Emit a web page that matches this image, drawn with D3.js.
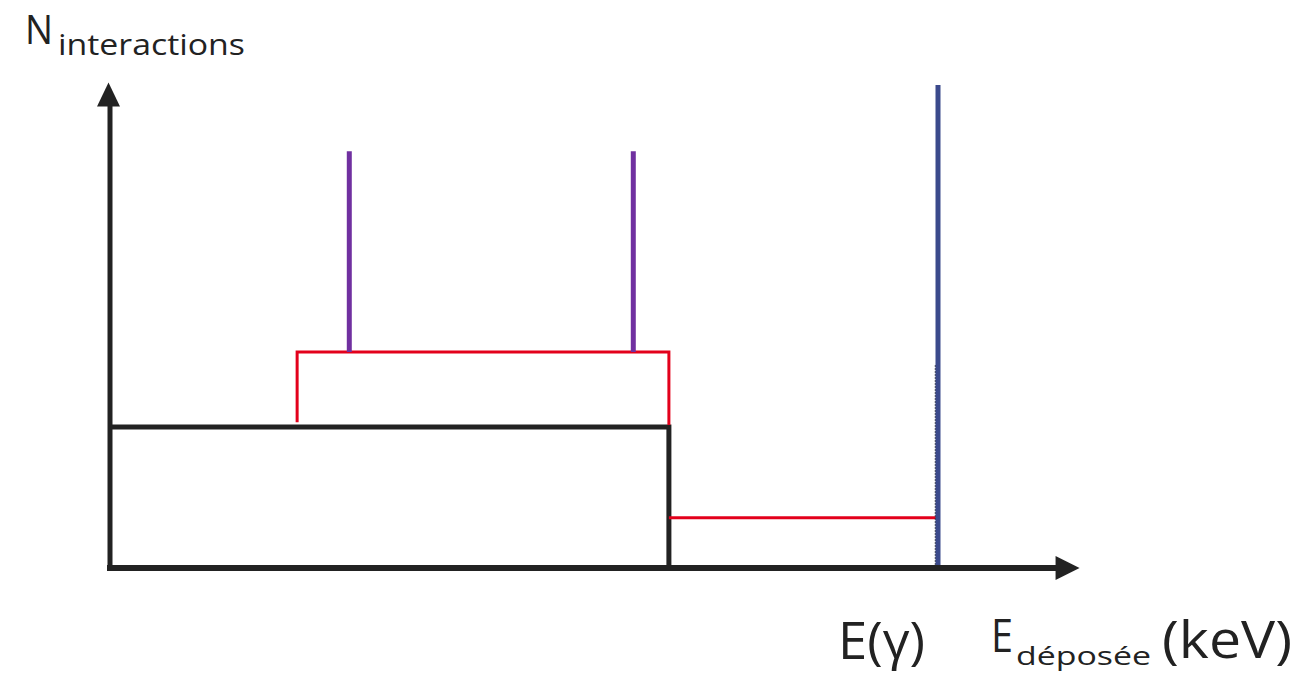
<!DOCTYPE html>
<html>
<head>
<meta charset="utf-8">
<script src="https://cdn.jsdelivr.net/npm/d3@7"></script>
<style>
  html, body { margin: 0; padding: 0; background: #fff; }
  svg { display: block; }
  text { font-family: "Open Sans", "Noto Sans", sans-serif; fill: #222; }
</style>
</head>
<body>
<svg id="chart" width="1307" height="674"></svg>
<script>
// Energy axis in % of E(γ); count axis in arbitrary units
const axisExtent = { x: 117.1, y: 100.5 };
const gammaEnergy = 100;
const comptonEdge = 67.5;

// Black Compton continuum (step): [start, end, level]
const continuum = [[0, comptonEdge, 29.2]];
// Red spectrum segments as polylines
const redUpper = [[22.6, 30.2], [22.6, 44.7], [comptonEdge, 44.7], [comptonEdge, 29.6]];
const redLower = [[comptonEdge, 10.4], [gammaEnergy, 10.4]];
// Purple peaks: [energy, height, base]
const purplePeaks = [[28.9, 86.3, 44.7], [63.2, 86.3, 44.7]];
// Blue photopeak line
const photopeak = [[gammaEnergy, 100]];

// Title pieces: [text, x, baseline, size, width]
const yTitleParts = [["N", 25, 44, 41, 28], ["interactions", 58, 55, 29, 187]];
const xTitleParts = [
  ["E(γ)", 838, 659, 51, 87],
  ["E", 991, 652, 46, 22],
  ["déposée", 1016, 665, 25, 135],
  ["(keV)", 1162, 658, 51, 130]
];

const svg = d3.select("#chart");
const x = d3.scaleLinear().domain([0, 100]).range([110, 938]);
const y = d3.scaleLinear().domain([0, 100]).range([568, 85]);
const line = d3.line().x(d => x(d[0])).y(d => y(d[1]));

const dark = "#222222";

// Black continuum box
continuum.forEach(([a, b, h]) => {
  svg.append("path")
    .attr("d", line([[a, h], [b, h], [b, 0]]))
    .attr("fill", "none").attr("stroke", dark).attr("stroke-width", 5)
    .attr("stroke-linejoin", "miter");
});

// Red spectrum
[redUpper, redLower].forEach(seg => {
  svg.append("path")
    .attr("d", line(seg))
    .attr("fill", "none").attr("stroke", "#E3001B").attr("stroke-width", 3);
});

// Purple peaks
svg.selectAll("line.peak").data(purplePeaks).enter().append("line")
  .attr("class", "peak")
  .attr("x1", d => x(d[0])).attr("x2", d => x(d[0]))
  .attr("y1", d => y(d[2])).attr("y2", d => y(d[1]))
  .attr("stroke", "#7030A0").attr("stroke-width", 5);

// Dotted guide at E(γ)
svg.append("line")
  .attr("x1", x(gammaEnergy) - 2.5).attr("x2", x(gammaEnergy) - 2.5)
  .attr("y1", y(42)).attr("y2", y(0))
  .attr("stroke", dark).attr("stroke-width", 1.5).attr("stroke-dasharray", "1.5,1.5");

// Blue photopeak
svg.selectAll("line.photo").data(photopeak).enter().append("line")
  .attr("class", "photo")
  .attr("x1", d => x(d[0])).attr("x2", d => x(d[0]))
  .attr("y1", y(-0.6)).attr("y2", d => y(d[1]))
  .attr("stroke", "#3B4A8C").attr("stroke-width", 5);

// Axes with arrowheads
const x0 = x(0), y0 = y(0);
const xEnd = x(axisExtent.x), yEnd = y(axisExtent.y);
svg.append("line").attr("x1", x0).attr("y1", y0 + 3).attr("x2", x0).attr("y2", yEnd + 20)
  .attr("stroke", dark).attr("stroke-width", 5);
svg.append("line").attr("x1", x0 - 3).attr("y1", y0).attr("x2", xEnd - 20).attr("y2", y0)
  .attr("stroke", dark).attr("stroke-width", 6);
svg.append("path")
  .attr("d", `M${x0 - 1.5},${yEnd} L${x0 - 13},${yEnd + 24} L${x0 + 10},${yEnd + 24} Z`)
  .attr("fill", dark);
svg.append("path")
  .attr("d", `M${xEnd},${y0} L${xEnd - 24},${y0 - 12} L${xEnd - 24},${y0 + 12} Z`)
  .attr("fill", dark);

// Axis titles
svg.selectAll("text.title").data(yTitleParts.concat(xTitleParts)).enter().append("text")
  .attr("class", "title")
  .attr("x", d => d[1]).attr("y", d => d[2])
  .attr("font-size", d => d[3])
  .attr("textLength", d => d[4])
  .attr("lengthAdjust", "spacingAndGlyphs")
  .text(d => d[0]);
</script>
</body>
</html>
